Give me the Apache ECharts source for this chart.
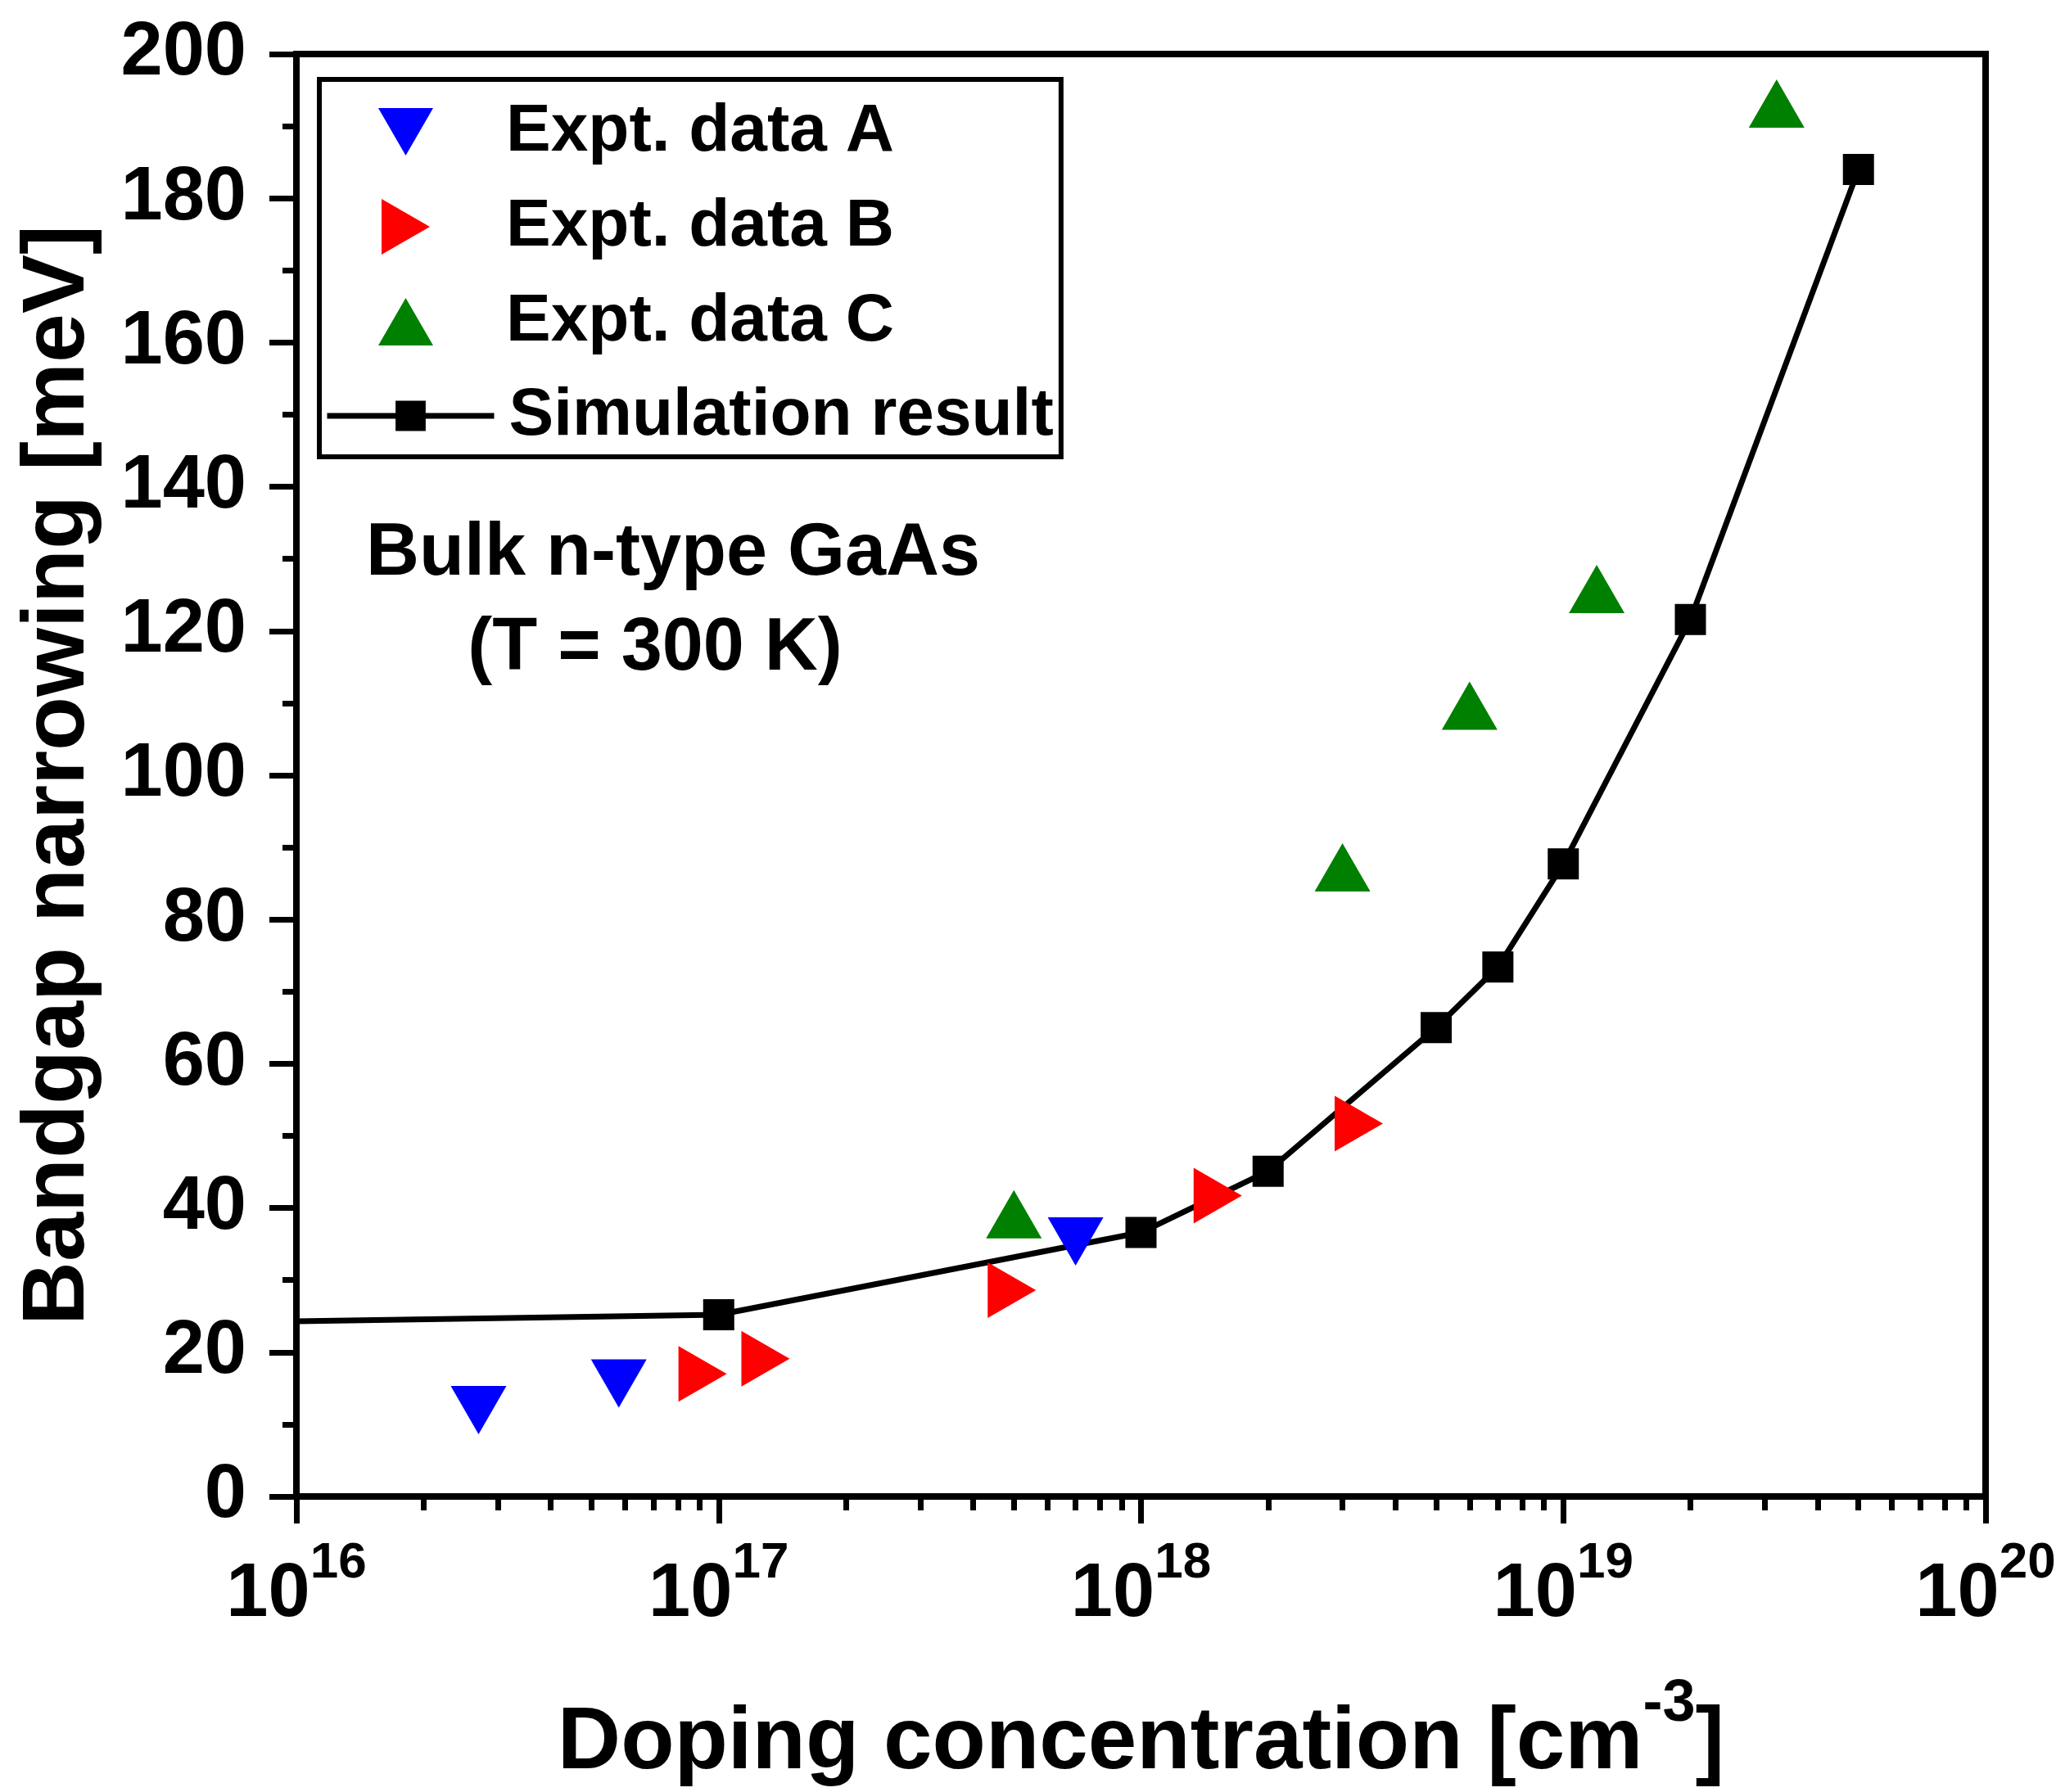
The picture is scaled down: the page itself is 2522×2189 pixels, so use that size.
<!DOCTYPE html>
<html>
<head>
<meta charset="utf-8">
<script src="https://cdn.jsdelivr.net/npm/echarts@6/dist/echarts.min.js"></script>
<style>
html,body{margin:0;padding:0;background:#fff;}
#chart{width:2522px;height:2189px;}
</style>
</head>
<body>
<div id="chart"></div>
<script>
// ---- data ----
const simX = [1e16, 1e17, 1e18, 2e18, 5e18, 7e18, 1e19, 2e19, 5e19];
const simY = [24.3, 25.2, 36.6, 45.1, 65.0, 73.4, 87.7, 121.6, 184.0];

const aX = [2.7e16, 5.8e16, 7.0e17];
const aY = [13.1, 16.8, 36.5];

const bX = [8.8e16, 1.24e17, 4.75e17, 1.46e18, 3.15e18];
const bY = [17.0, 19.1, 28.6, 41.7, 51.7];

const cX = [5.0e17, 3.0e18, 6.0e18, 1.2e19, 3.2e19];
const cY = [38.0, 86.1, 108.5, 124.7, 192.0];

const seriesNames = ['Expt. data A', 'Expt. data B', 'Expt. data C', 'Simulation result'];
const xDecades = [1e16, 1e17, 1e18, 1e19];
const xMinorMultipliers = [2, 3, 4, 5, 6, 7, 8, 9];
const yTicks = [0, 20, 40, 60, 80, 100, 120, 140, 160, 180, 200];

const FONT = '"Liberation Sans", Arial, Helvetica, sans-serif';

const minorVals = [];
xDecades.forEach(d => xMinorMultipliers.forEach(m => minorVals.push(d * m)));

function pairs(xs, ys) { return xs.map((x, i) => [x, ys[i]]); }
const simData = pairs(simX, simY).map((p, i) => i === 0 ? { value: p, symbol: 'none' } : p);

// legend icon shapes (orientation only)
const ICON_DOWN = 'path://M0,0L68,0L34,59Z';
const ICON_RIGHT = 'path://M0,0L59,34L0,68Z';
const ICON_UP = 'path://M34,0L68,59L0,59Z';

const chart = echarts.init(document.getElementById('chart'), null, { renderer: 'canvas' });

const legendText = { fontSize: 82, fontWeight: 'bold', fontFamily: FONT, color: '#000', lineHeight: 82 };

chart.setOption({
  backgroundColor: '#fff',
  animation: false,
  grid: {
    left: 362, right: 97, top: 66, bottom: 355,
    show: true, borderColor: '#000', borderWidth: 8, backgroundColor: 'transparent'
  },
  legend: [
    {
      data: [
        { name: seriesNames[0], icon: ICON_DOWN },
        { name: seriesNames[1], icon: ICON_RIGHT },
        { name: seriesNames[2], icon: ICON_UP }
      ],
      orient: 'vertical',
      left: 390, top: 97,
      padding: [23, 204, 124, 72],
      itemWidth: 67, itemHeight: 68, itemGap: 34,
      symbolKeepAspect: true,
      borderColor: '#000', borderWidth: 6,
      textStyle: Object.assign({ padding: [0, 0, 0, 84] }, legendText),
      selectedMode: false
    },
    {
      data: [seriesNames[3]],
      orient: 'vertical',
      left: 396, top: 467,
      padding: 0,
      itemWidth: 204, itemHeight: 46,
      lineStyle: { width: 7, color: '#000' },
      textStyle: Object.assign({ padding: [0, 0, 0, 13] }, legendText),
      selectedMode: false
    }
  ],
  xAxis: [
    {
      type: 'log', logBase: 10, min: 1e16, max: 1e20, splitNumber: 4,
      position: 'bottom',
      axisLine: { show: true, onZero: false, lineStyle: { color: '#000', width: 8 } },
      axisTick: { show: true, inside: false, length: 33, lineStyle: { color: '#000', width: 7 } },
      splitLine: { show: false },
      axisLabel: {
        margin: 51,
        formatter: v => '{b|10}{s|' + Math.round(Math.log10(v)) + '}',
        rich: {
          b: { fontSize: 92, fontWeight: 'bold', fontFamily: FONT, color: '#000', lineHeight: 116, verticalAlign: 'bottom' },
          s: { fontSize: 62, fontWeight: 'bold', fontFamily: FONT, color: '#000', lineHeight: 62, verticalAlign: 'top' }
        }
      },
      name: '{b|Doping concentration [cm}{s|-3}{b|]}',
      nameLocation: 'middle',
      nameGap: 218,
      nameTextStyle: {
        rich: {
          b: { fontSize: 107, fontWeight: 'bold', fontFamily: FONT, color: '#000', lineHeight: 138, verticalAlign: 'bottom' },
          s: { fontSize: 72, fontWeight: 'bold', fontFamily: FONT, color: '#000', lineHeight: 72, verticalAlign: 'top' }
        }
      }
    },
    {
      type: 'log', logBase: 10, min: 1e16, max: 1e20,
      position: 'bottom',
      axisLine: { show: false },
      axisLabel: { show: false },
      splitLine: { show: false },
      axisTick: { show: true, inside: false, length: 17, customValues: minorVals, lineStyle: { color: '#000', width: 7 } }
    }
  ],
  yAxis: {
    type: 'value', min: 0, max: 200, interval: 20,
    axisLine: { show: true, onZero: false, lineStyle: { color: '#000', width: 8 } },
    axisTick: { show: true, inside: false, length: 33, lineStyle: { color: '#000', width: 7 } },
    minorTick: { show: true, splitNumber: 2, length: 17, lineStyle: { color: '#000', width: 7 } },
    splitLine: { show: false },
    minorSplitLine: { show: false },
    axisLabel: {
      margin: 61, fontSize: 92, fontWeight: 'bold', fontFamily: FONT, color: '#000',
      padding: [0, 0, 12, 0],
      customValues: yTicks
    },
    name: 'Bandgap narrowing [meV]',
    nameLocation: 'middle',
    nameGap: 236,
    nameTextStyle: { fontSize: 108, fontWeight: 'bold', fontFamily: FONT, color: '#000' }
  },
  series: [
    {
      name: seriesNames[3], type: 'line', xAxisIndex: 0,
      data: simData,
      symbol: 'rect', symbolSize: 38,
      itemStyle: { color: '#000', opacity: 1 },
      lineStyle: { color: '#000', width: 7 },
      z: 2
    },
    {
      name: seriesNames[0], type: 'scatter', xAxisIndex: 0,
      data: pairs(aX, aY),
      symbol: 'triangle', symbolSize: [68, 59], symbolRotate: 180, symbolOffset: [0, 10],
      itemStyle: { color: '#0000FF', opacity: 1 }, z: 3
    },
    {
      name: seriesNames[1], type: 'scatter', xAxisIndex: 0,
      data: pairs(bX, bY),
      symbol: 'triangle', symbolSize: [68, 59], symbolRotate: -90, symbolOffset: [9, 0],
      itemStyle: { color: '#FF0000', opacity: 1 }, z: 3
    },
    {
      name: seriesNames[2], type: 'scatter', xAxisIndex: 0,
      data: pairs(cX, cY),
      symbol: 'triangle', symbolSize: [68, 59], symbolOffset: [0, -10],
      itemStyle: { color: '#008000', opacity: 1 }, z: 3
    }
  ],
  graphic: [
    {
      type: 'text', x: 822, y: 677, z: 10,
      style: { text: 'Bulk n-type GaAs', align: 'center', verticalAlign: 'middle',
        fontSize: 90, fontWeight: 'bold', fontFamily: FONT, fill: '#000' }
    },
    {
      type: 'text', x: 800, y: 793, z: 10,
      style: { text: '(T = 300 K)', align: 'center', verticalAlign: 'middle',
        fontSize: 90, fontWeight: 'bold', fontFamily: FONT, fill: '#000' }
    }
  ]
});
</script>
</body>
</html>
